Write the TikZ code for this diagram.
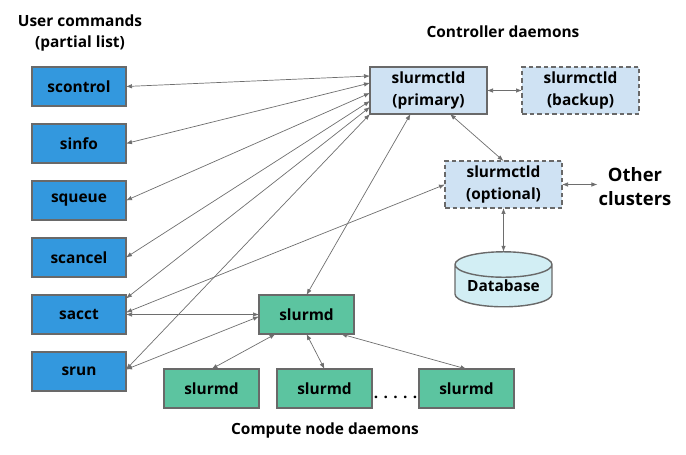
\documentclass[tikz,border=0pt]{standalone}
\usepackage{fontspec}
\setmainfont{Open Sans}
\usetikzlibrary{positioning}
\usetikzlibrary{shapes.geometric}
\usetikzlibrary{arrows.meta}
\definecolor{cmdblue}{RGB}{51,152,222}
\definecolor{ctlblue}{RGB}{207,226,243}
\definecolor{dgreen}{RGB}{92,196,160}
\definecolor{dbcyan}{RGB}{210,238,244}
\definecolor{rahmen}{RGB}{105,105,105}
\definecolor{linie}{RGB}{110,110,110}
\tikzset{
  Box/.style={draw=rahmen, line width=1.4bp, outer sep=0pt, inner sep=0pt,
    align=center, font=\fontsize{15.5}{21.5}\selectfont\bfseries}, % alle Kaesten
  Cmd/.style={Box, fill=cmdblue, minimum width=94bp, minimum height=39bp},   % Befehle
  Ctld/.style={Box, fill=ctlblue, minimum width=117bp, minimum height=47bp}, % slurmctld
  CtldOpt/.style={Ctld, dash pattern=on 4.5bp off 3bp},                       % gestrichelt
  Slurmd/.style={Box, fill=dgreen, minimum width=95bp, minimum height=39bp}, % slurmd
  Titel/.style={align=center, font=\fontsize{15.5}{21.5}\selectfont\bfseries},
  Pfeil/.style={draw=linie, line width=0.7bp, <->} % fuer Verbindungen
}

\begin{document}
\begin{tikzpicture}[x=1bp, y=-1bp,
>={Latex[length=6bp,width=4.5bp]} % Voreinstellung fuer Pfeilspitzen
]
\useasboundingbox (0,0) rectangle (686,455);

%Ueberschriften
\node[Titel] (usrtitel) at (80,33) {User commands\\(partial list)};
\node[Titel] (ctltitel) at (503,32) {Controller daemons};
\node[Titel] (cmptitel) at (325,430) {Compute node daemons};

%Befehle
\node[Cmd] (scontrol) at (79,86.5) {scontrol};
\node[Cmd, below=18bp of scontrol] (sinfo) {sinfo};
\node[Cmd, below=18bp of sinfo] (squeue) {squeue};
\node[Cmd, below=18bp of squeue] (scancel) {scancel};
\node[Cmd, below=18bp of scancel] (sacct) {sacct};
\node[Cmd, below=18bp of sacct] (srun) {srun};

%Controller
\node[Ctld] (prim) at (428.5,90.5) {slurmctld\\(primary)};
\node[CtldOpt, right=35bp of prim] (backup) {slurmctld\\(backup)};
\node[CtldOpt] (opt) at (503.5,184.5) {slurmctld\\(optional)};
\node[Box, cylinder, shape border rotate=90, aspect=0.35, fill=dbcyan,
  minimum width=97bp, minimum height=55bp] (db) at (503.5,286) {Database};
\node[align=center, inner sep=1bp, font=\fontsize{18.5}{24}\selectfont\bfseries]
  (andere) at (635,187) {Other\\clusters};

%Rechenknoten
\node[Slurmd] (slurmd) at (306.5,314.5) {slurmd};
\node[Slurmd] (sd1) at (211.5,388.5) {slurmd};
\node[Slurmd, right=18bp of sd1] (sd2) {slurmd};
\node[Slurmd] (sd3) at (466.5,388.5) {slurmd};
\node[font=\fontsize{15.5}{21.5}\selectfont\bfseries] (punkte) at (395.5,397.5) {. . . . .};

%Verbindungen
\draw[Pfeil] (scontrol.east) -- ([yshift=14.5bp]prim.west);
\draw[Pfeil] (sinfo.east) -- ([yshift=7.5bp]prim.west);
\draw[Pfeil] (squeue.east) -- ([yshift=-2.5bp]prim.west);
\draw[Pfeil] (scancel.east) -- ([yshift=-10.5bp]prim.west);
\draw[Pfeil] ([yshift=16bp]sacct.east) -- ([yshift=-16.5bp]prim.west);
\draw[Pfeil] ([yshift=2bp]srun.east) -- (prim.south west);

\draw[Pfeil] ([yshift=2bp]sacct.east) -- (opt.west);
\draw[Pfeil] (sacct.east) -- (slurmd.west);
\draw[Pfeil] ([yshift=2bp]srun.east) -- ([yshift=-2bp]slurmd.west);

\draw[Pfeil] ([xshift=-18bp]prim.south) -- (slurmd.north);
\draw[Pfeil] ([xshift=21.5bp]prim.south) -- (opt.north);
\draw[Pfeil] (prim.east) -- (backup.west);
\draw[Pfeil] (opt.east) -- (opt.east -| andere.west);
\draw[Pfeil] (opt.south) -- (db.north);

\draw[Pfeil] ([xshift=-31bp]slurmd.south) -- (sd1.north);
\draw[Pfeil] (slurmd.south) -- (sd2.north);
\draw[Pfeil] ([xshift=34.5bp]slurmd.south) -- (sd3.north);

\end{tikzpicture}
\end{document}
